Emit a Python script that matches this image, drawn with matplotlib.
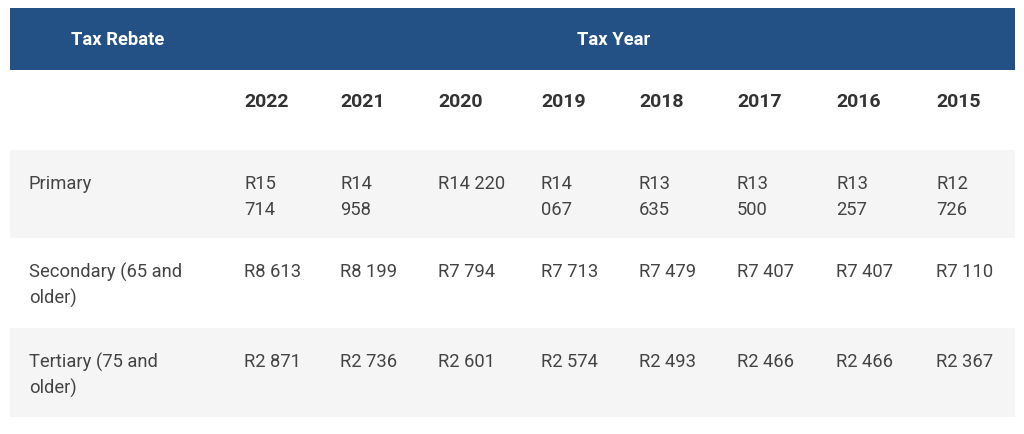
import matplotlib
matplotlib.use("Agg")
import matplotlib.pyplot as plt
from matplotlib.patches import Rectangle

# ---- data ----
years = [2022, 2021, 2020, 2019, 2018, 2017, 2016, 2015]
rebates = ["Primary", "Secondary (65 and\nolder)", "Tertiary (75 and\nolder)"]
primary = [15714, 14958, 14220, 14067, 13635, 13500, 13257, 12726]
secondary = [8613, 8199, 7794, 7713, 7479, 7407, 7407, 7110]
tertiary = [2871, 2736, 2601, 2574, 2493, 2466, 2466, 2367]
values = [primary, secondary, tertiary]
header_left = "Tax Rebate"
header_right = "Tax Year"
# columns that are too narrow so the primary amount wraps onto two lines
wrap_primary = [True, True, False, True, True, True, True, True]

def fmt(v, wrap):
    s = f"{v:,}".replace(",", " ")
    head, tail = s.split(" ")
    return f"R{head}\n{tail}" if wrap else f"R{head} {tail}"

plt.rcParams['font.family'] = ['Roboto', 'DejaVu Sans']

W, H = 1024, 434
fig = plt.figure(figsize=(W / 100, H / 100), dpi=100)
ax = fig.add_axes([0, 0, 1, 1])
ax.set_xlim(0, W)
ax.set_ylim(H, 0)
ax.axis("off")

left, right = 10, 1015
header_color = "#235186"
stripe = "#f5f5f5"
txt_dark = "#333333"
txt_body = "#444444"

# header band
ax.add_patch(Rectangle((left, 8), right - left, 62, facecolor=header_color, edgecolor="none"))
ax.text(118, 40, header_left, color="white", fontsize=13.2, fontweight="bold", ha="center", va="center")
ax.text(614, 40, header_right, color="white", fontsize=13.2, fontweight="bold", ha="center", va="center")

col_x = [244, 340, 438, 541, 639, 737, 836, 936]
label_x = 29

# year row
for x, y in zip(col_x, years):
    ax.text(x, 102, str(y), color=txt_dark, fontsize=14, fontweight="bold", ha="left", va="center")

row_tops = [150, 238, 328]
row_bottoms = [238, 328, 417]
line_h = 26
for i, (name, vals) in enumerate(zip(rebates, values)):
    top, bot = row_tops[i], row_bottoms[i]
    if i % 2 == 0:
        ax.add_patch(Rectangle((left, top), right - left, bot - top, facecolor=stripe, edgecolor="none"))
    y0 = top + 34
    for k, line in enumerate(name.split("\n")):
        ax.text(label_x, y0 + k * line_h, line, color=txt_body, fontsize=13.2, ha="left", va="center")
    for j, (x, v) in enumerate(zip(col_x, vals)):
        wrap = wrap_primary[j] if i == 0 else False
        for k, line in enumerate(fmt(v, wrap).split("\n")):
            ax.text(x, y0 + k * line_h, line, color=txt_body, fontsize=13.2, ha="left", va="center")

fig.savefig("out.png", dpi=100, facecolor="white")
